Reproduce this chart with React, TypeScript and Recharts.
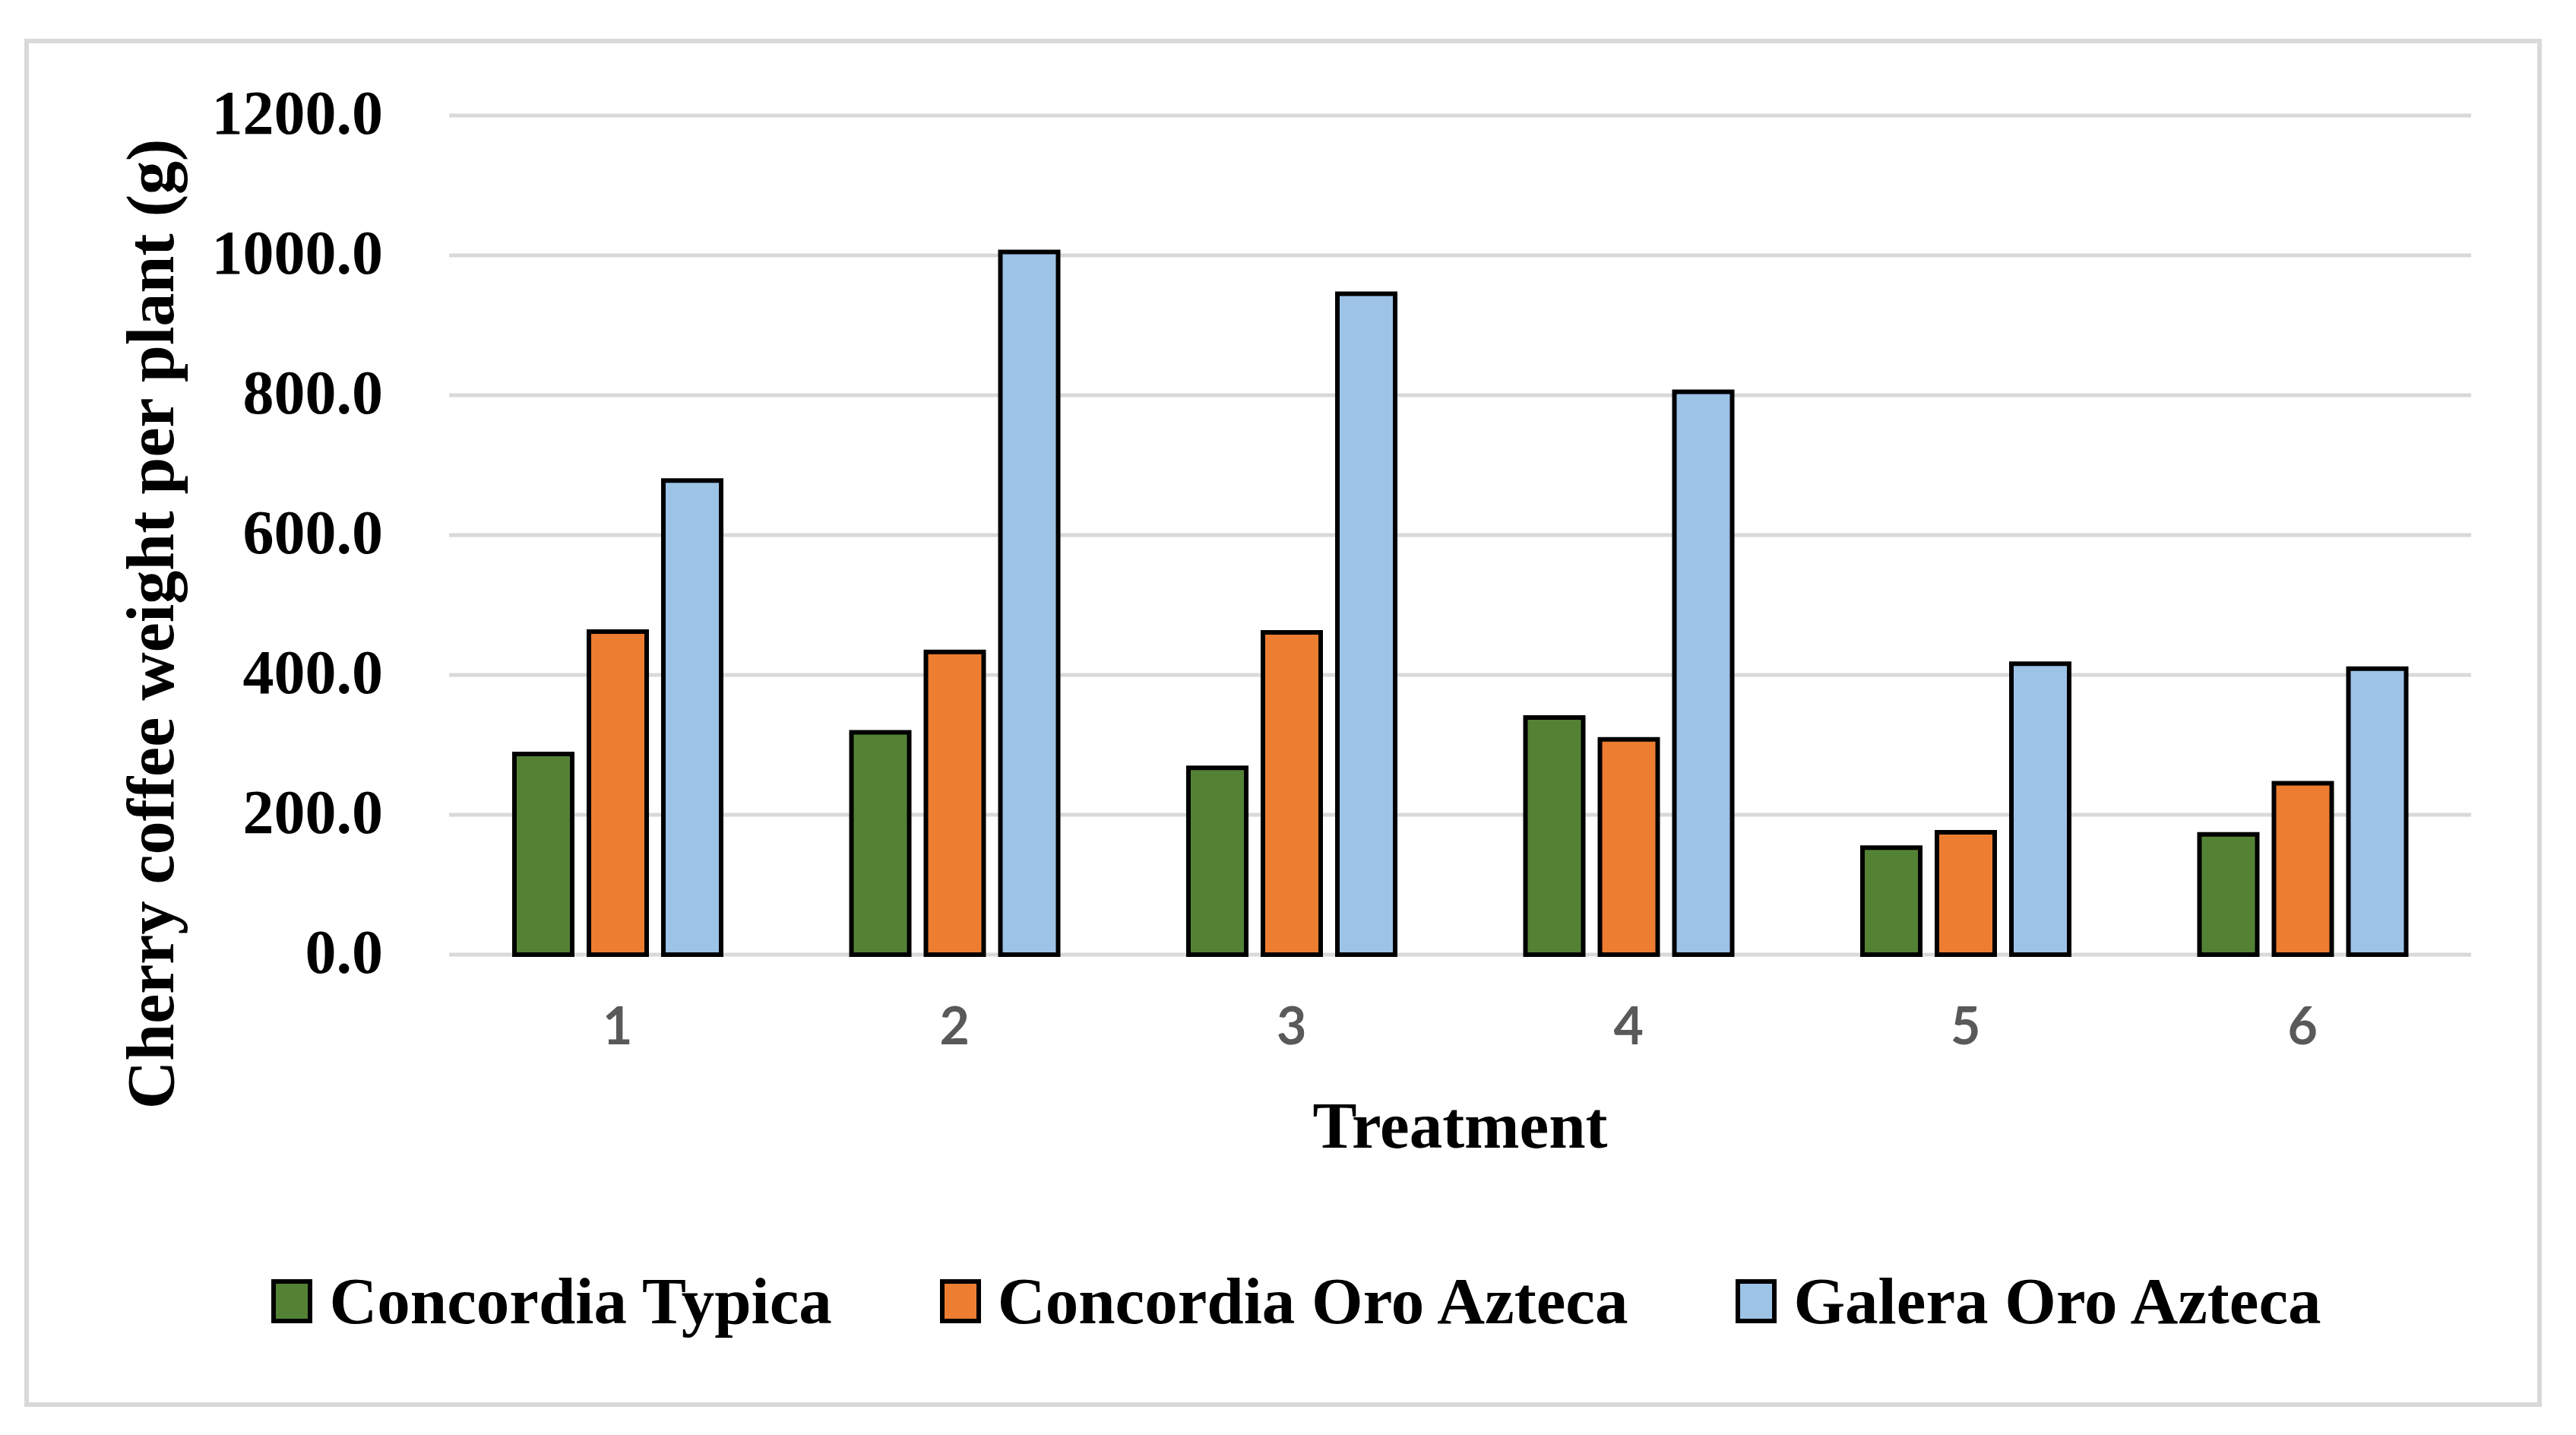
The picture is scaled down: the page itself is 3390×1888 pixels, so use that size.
import { BarChart, Bar, XAxis, YAxis, CartesianGrid, Legend } from 'recharts';

const CATEGORIES = ['1', '2', '3', '4', '5', '6'];
const CONCORDIA_TYPICA = [287, 318, 267, 339, 153, 172];
const CONCORDIA_ORO_AZTECA = [462, 433, 461, 308, 175, 245];
const GALERA_ORO_AZTECA = [678, 1005, 945, 805, 416, 409];
const Y_TICKS = [0, 200, 400, 600, 800, 1000, 1200];

const SERIES = [
  { key: 'typica', name: 'Concordia Typica', color: '#548235', values: CONCORDIA_TYPICA },
  { key: 'concordiaOro', name: 'Concordia Oro Azteca', color: '#ED7D31', values: CONCORDIA_ORO_AZTECA },
  { key: 'galeraOro', name: 'Galera Oro Azteca', color: '#9DC3E6', values: GALERA_ORO_AZTECA },
];

const data = CATEGORIES.map((c, i) => {
  const row: Record<string, string | number> = { treatment: c };
  SERIES.forEach((s) => { row[s.key] = s.values[i]; });
  return row;
});

const SERIF = '"Liberation Serif", "Times New Roman", serif';
const GRID = '#d9d9d9';

function LegendBox() {
  return (
    <div style={{ display: 'flex', justifyContent: 'center', alignItems: 'center', gap: 142, paddingLeft: 22 }}>
      {SERIES.map((s) => (
        <div key={s.key} style={{ display: 'flex', alignItems: 'center' }}>
          <span
            style={{
              display: 'inline-block',
              width: 54,
              height: 58,
              boxSizing: 'border-box',
              border: '6px solid #000',
              background: s.color,
              marginRight: 22,
            }}
          />
          <span style={{ fontFamily: SERIF, fontWeight: 700, fontSize: 87, lineHeight: 1, color: '#000' }}>
            {s.name}
          </span>
        </div>
      ))}
    </div>
  );
}

export default function App() {
  return (
    <div style={{ position: 'absolute', left: 0, top: 0, width: 3390, height: 1888, background: '#fff' }}>
      <div
        style={{
          position: 'absolute',
          left: 32,
          top: 51,
          width: 3313,
          height: 1800,
          boxSizing: 'border-box',
          border: `6px solid ${GRID}`,
        }}
      />
      <BarChart
        width={3390}
        height={1888}
        data={data}
        margin={{ top: 152, right: 138, left: 291, bottom: 332 }}
        barSize={76}
        barGap={22}
      >
        <CartesianGrid vertical={false} stroke={GRID} strokeWidth={5} />
        <XAxis
          dataKey="treatment"
          height={300}
          axisLine={false}
          tickLine={false}
          tickSize={0}
          tickMargin={70}
          tick={{ fill: '#595959', fontSize: 68, fontWeight: 700, fontFamily: 'Lato, "Liberation Sans", sans-serif' }}
          label={{
            content: ({ viewBox }: any) => (
              <text
                x={viewBox.x + viewBox.width / 2}
                y={viewBox.y + 254}
                textAnchor="middle"
                fontFamily={SERIF}
                fontWeight={700}
                fontSize={87}
                fill="#000"
              >
                Treatment
              </text>
            ),
          }}
        />
        <YAxis
          width={300}
          domain={[0, 1200]}
          ticks={Y_TICKS}
          axisLine={false}
          tickLine={false}
          tickSize={0}
          tickMargin={87}
          tickFormatter={(v: number) => v.toFixed(1)}
          tick={{ fill: '#000', fontSize: 82, fontWeight: 700, fontFamily: SERIF, dy: -5 }}
          label={{
            content: ({ viewBox }: any) => {
              const cx = viewBox.x - 63;
              const cy = 821;
              return (
                <text
                  x={cx}
                  y={cy}
                  transform={`rotate(-90, ${cx}, ${cy})`}
                  textAnchor="middle"
                  fontFamily={SERIF}
                  fontWeight={700}
                  fontSize={88}
                  fill="#000"
                >
                  Cherry coffee weight per plant (g)
                </text>
              );
            },
          }}
        />
        <Legend
          layout="horizontal"
          verticalAlign="middle"
          align="center"
          wrapperStyle={{ left: 0, width: 3390, top: 1668 }}
          content={() => <LegendBox />}
        />
        {SERIES.map((s) => (
          <Bar
            key={s.key}
            dataKey={s.key}
            name={s.name}
            fill={s.color}
            stroke="#000"
            strokeWidth={6}
            isAnimationActive={false}
          />
        ))}
      </BarChart>
    </div>
  );
}
